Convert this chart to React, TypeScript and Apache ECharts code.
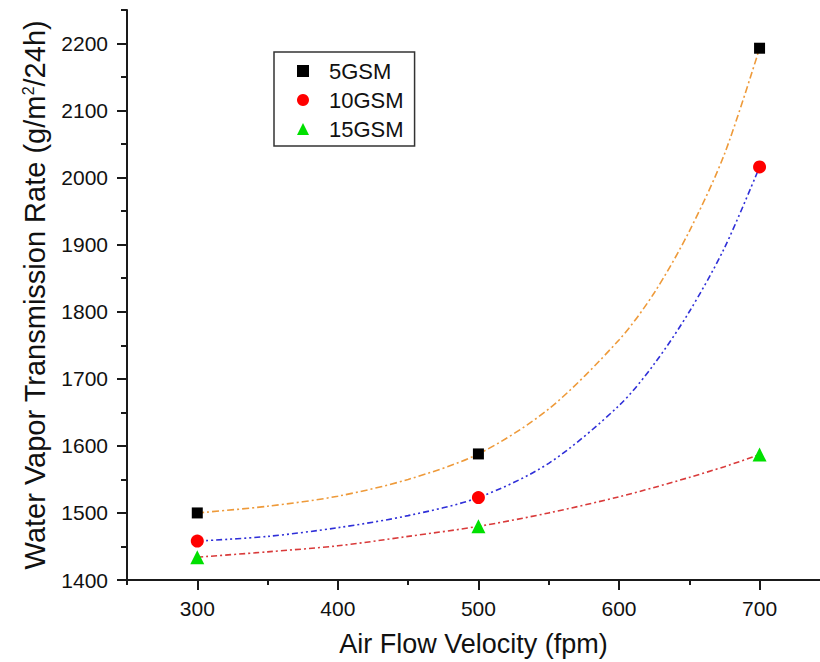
import React, { useEffect, useRef } from "react";
import * as echarts from "echarts";

const seriesNames = ["5GSM", "10GSM", "15GSM"];
const pointX = [300, 500, 700];
const points5 = [1500, 1588, 2193];
const points10 = [1458, 1523, 2016];
const points15 = [1434, 1480, 1587];

const curveX = [300, 350, 400, 450, 500, 550, 600, 625, 650, 675, 700];
const curve5 = [1500, 1510, 1525, 1550, 1588, 1655, 1758, 1828, 1920, 2035, 2193];
const curve10 = [1458, 1465, 1478, 1496, 1523, 1574, 1660, 1722, 1800, 1895, 2016];
const curve15 = [1434, 1442, 1451, 1465, 1480, 1500, 1524, 1538, 1553, 1569, 1587];

const xMajorTicks = [300, 400, 500, 600, 700];
const xMinorTicks = [250, 350, 450, 550, 650];
const yMajorTicks = [1400, 1500, 1600, 1700, 1800, 1900, 2000, 2100, 2200];
const yMinorTicks = [1450, 1550, 1650, 1750, 1850, 1950, 2050, 2150, 2250];

const FONT = "'Liberation Sans', Arial, sans-serif";
const AXIS_COLOR = "#1a1a1a";

function zip(xs: number[], ys: number[]) {
  return xs.map((x, i) => [x, ys[i]]);
}

export default function App() {
  const ref = useRef<HTMLDivElement>(null);
  useEffect(() => {
    if (!ref.current) return;
    const chart = echarts.init(ref.current, null, { renderer: "svg" });
    const xBase = {
      type: "value",
      min: 250,
      max: 743,
      splitLine: { show: false },
    };
    const yBase = {
      type: "value",
      min: 1400,
      max: 2250,
      splitLine: { show: false },
    };
    const plain = (v: number) => String(v);
    const curveSeries = (name: string, xs: number[], ys: number[], color: string, dash: number[]) => ({
      name,
      type: "line",
      data: zip(xs, ys),
      showSymbol: false,
      symbol: "none",
      smooth: 0.3,
      lineStyle: { color, width: 1.6, type: dash },
      z: 2,
    });
    chart.setOption({
      animation: false,
      backgroundColor: "#ffffff",
      grid: { left: 127, top: 10, right: 0, bottom: 81 },
      legend: {
        orient: "vertical",
        left: 274,
        top: 52,
        data: [
          { name: "5GSM", icon: "rect" },
          { name: "10GSM", icon: "circle" },
          { name: "15GSM", icon: "triangle" },
        ],
        itemWidth: 12,
        itemHeight: 12,
        itemGap: 7,
        padding: [8, 11, 6, 23],
        borderColor: "#333",
        borderWidth: 1.5,
        itemStyle: { opacity: 1 },
        textStyle: {
          fontFamily: FONT,
          fontSize: 22,
          color: "#111",
          padding: [0, 0, 0, 15],
        },
      },
      xAxis: [
        {
          ...xBase,
          name: "Air Flow Velocity (fpm)",
          nameLocation: "middle",
          nameGap: 50,
          nameTextStyle: { fontFamily: FONT, fontSize: 27, color: "#111" },
          axisLine: { show: true, lineStyle: { color: AXIS_COLOR, width: 2 } },
          axisTick: {
            show: true,
            length: 10,
            customValues: xMajorTicks,
            lineStyle: { color: AXIS_COLOR, width: 2 },
          },
          axisLabel: {
            customValues: xMajorTicks,
            formatter: plain,
            margin: 18,
            fontFamily: FONT,
            fontSize: 21,
            color: "#111",
          },
        },
        {
          ...xBase,
          position: "bottom",
          axisLine: { show: false },
          axisTick: {
            show: true,
            length: 5,
            customValues: xMinorTicks,
            lineStyle: { color: AXIS_COLOR, width: 2 },
          },
          axisLabel: { show: false },
        },
      ],
      yAxis: [
        {
          ...yBase,
          name: "Water Vapor Transmission Rate (g/m{sup|2}/24h)",
          nameLocation: "middle",
          nameGap: 78,
          nameTextStyle: {
            fontFamily: FONT,
            fontSize: 29,
            color: "#111",
            rich: {
              sup: {
                fontFamily: FONT,
                fontSize: 16,
                color: "#111",
                verticalAlign: "top",
              },
            },
          },
          axisLine: { show: true, lineStyle: { color: AXIS_COLOR, width: 2 } },
          axisTick: {
            show: true,
            length: 10,
            customValues: yMajorTicks,
            lineStyle: { color: AXIS_COLOR, width: 2 },
          },
          axisLabel: {
            customValues: yMajorTicks,
            formatter: plain,
            margin: 19,
            fontFamily: FONT,
            fontSize: 21,
            color: "#111",
          },
        },
        {
          ...yBase,
          position: "left",
          axisLine: { show: false },
          axisTick: {
            show: true,
            length: 6,
            customValues: yMinorTicks,
            lineStyle: { color: AXIS_COLOR, width: 2 },
          },
          axisLabel: { show: false },
        },
      ],
      series: [
        curveSeries("fit5", curveX, curve5, "#EE9A3A", [7, 3, 2, 3]),
        curveSeries("fit10", curveX, curve10, "#2F2FD8", [6, 3, 2, 3, 2, 3]),
        curveSeries("fit15", curveX, curve15, "#D93A3A", [6, 3, 2, 3]),
        {
          name: seriesNames[0],
          type: "scatter",
          data: zip(pointX, points5),
          symbol: "rect",
          symbolSize: 11,
          itemStyle: { color: "#000000", opacity: 1 },
          z: 5,
        },
        {
          name: seriesNames[1],
          type: "scatter",
          data: zip(pointX, points10),
          symbol: "circle",
          symbolSize: 13,
          itemStyle: { color: "#FF0000", opacity: 1 },
          z: 5,
        },
        {
          name: seriesNames[2],
          type: "scatter",
          data: zip(pointX, points15),
          symbol: "triangle",
          symbolSize: 14,
          itemStyle: { color: "#00E000", opacity: 1 },
          z: 5,
        },
      ],
    });
    return () => chart.dispose();
  }, []);
  return (
    <div
      ref={ref}
      style={{ position: "fixed", left: 0, top: 0, width: 820, height: 662 }}
    />
  );
}
